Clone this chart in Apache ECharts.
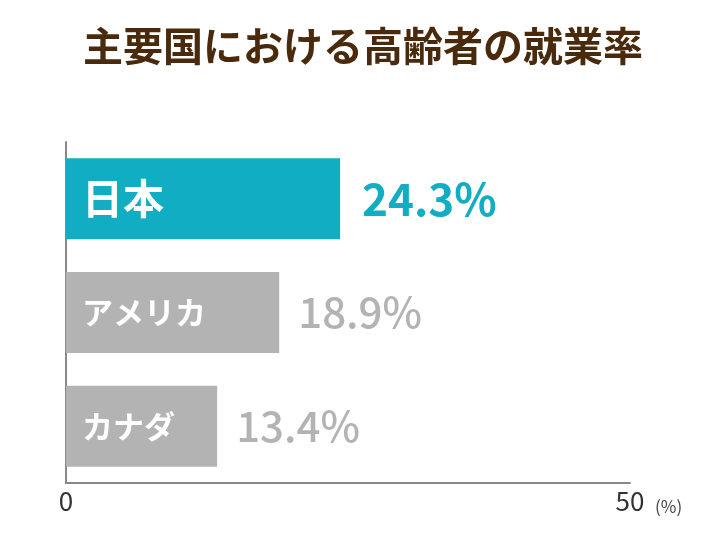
<!DOCTYPE html>
<html>
<head>
<meta charset="utf-8" />
<title>主要国における高齢者の就業率</title>
<script src="https://cdn.jsdelivr.net/npm/echarts@6/dist/echarts.min.js"></script>
<style>
  html, body { margin: 0; padding: 0; background: #fff; }
  #main { width: 726px; height: 545px; }
</style>
</head>
<body>
<div id="main"></div>
<script type="text/javascript">
    var countries = ['日本', 'アメリカ', 'カナダ'];
    var rates = [24.3, 18.9, 13.4];
    var axisTicks = [0, 50];

    var FONT = '"Noto Sans CJK JP", "Noto Sans", sans-serif';
    var TEAL = '#10adc3';
    var GREY = '#b3b3b3';

    var myChart = echarts.init(document.getElementById('main'));

    // bars with the country name inside
    var barData = rates.map(function (v, i) {
        return {
            value: v,
            itemStyle: { color: i === 0 ? TEAL : GREY },
            label: { fontSize: i === 0 ? 41 : 31 }
        };
    });
    // invisible twin bars carrying the value label on the right
    var valueData = rates.map(function (v, i) {
        return {
            value: v,
            label: {
                color: i === 0 ? TEAL : GREY,
                fontWeight: i === 0 ? 'bold' : 500,
                fontSize: i === 0 ? 44 : 42,
                distance: i === 0 ? 22 : 19
            }
        };
    });

    var option = {
        backgroundColor: '#fff',
        animation: false,
        title: {
            text: '主要国における高齢者の就業率',
            left: 'center',
            top: 21,
            textStyle: {
                color: '#4a2a0c',
                fontSize: 40,
                fontWeight: 'bold',
                fontFamily: FONT
            }
        },
        grid: {
            left: 66,
            right: 96,
            top: 142,
            bottom: 62
        },
        xAxis: {
            type: 'value',
            min: axisTicks[0],
            max: axisTicks[1],
            interval: axisTicks[1] - axisTicks[0],
            name: '(%)',
            nameLocation: 'end',
            nameGap: 25,
            nameTextStyle: {
                color: '#444',
                fontSize: 17,
                fontFamily: FONT,
                verticalAlign: 'top',
                padding: [15, 0, 0, 0]
            },
            axisLine: { show: true, lineStyle: { color: '#888', width: 2 } },
            axisTick: { show: false },
            splitLine: { show: false },
            axisLabel: {
                color: '#333',
                fontSize: 26,
                fontFamily: FONT,
                margin: 5
            }
        },
        yAxis: {
            type: 'category',
            inverse: true,
            data: countries,
            axisLine: { show: true, lineStyle: { color: '#888', width: 2 } },
            axisTick: { show: false },
            axisLabel: { show: false }
        },
        series: [
            {
                type: 'bar',
                data: barData,
                barWidth: 81,
                z: 2,
                label: {
                    show: true,
                    position: 'insideLeft',
                    distance: 16,
                    formatter: '{b}',
                    color: '#fff',
                    fontWeight: 'bold',
                    fontFamily: FONT
                }
            },
            {
                type: 'bar',
                data: valueData,
                barWidth: 81,
                barGap: '-100%',
                z: 3,
                itemStyle: { color: 'rgba(0,0,0,0)' },
                label: {
                    show: true,
                    position: 'right',
                    formatter: function (p) { return p.value.toFixed(1) + '%'; },
                    fontFamily: FONT
                }
            }
        ]
    };
    myChart.setOption(option);
</script>
</body>
</html>
